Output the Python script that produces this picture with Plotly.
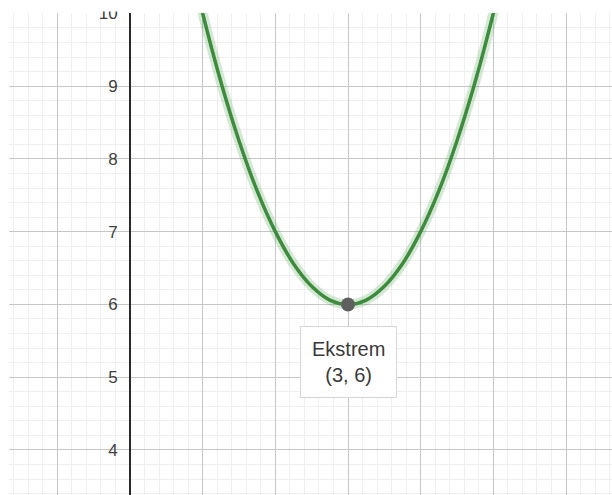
import plotly.graph_objects as go

# Curve samples (parabola with vertex at (3, 6))
curve_x = [0.8, 1.0, 1.25, 1.5, 1.75, 2.0, 2.25, 2.5, 2.75, 3.0, 3.25, 3.5, 3.75, 4.0, 4.25, 4.5, 4.75, 5.0, 5.2]
curve_y = [10.84, 10.0, 9.06, 8.25, 7.56, 7.0, 6.56, 6.25, 6.06, 6.0, 6.06, 6.25, 6.56, 7.0, 7.56, 8.25, 9.06, 10.0, 10.84]

extreme_x = [3]
extreme_y = [6]
extreme_title = "Ekstrem"

y_ticks = [4, 5, 6, 7, 8, 9, 10]
y_ticklabels = ["4", "5", "6", "7", "8", "9", "10"]

x_range = [-1.665, 6.633]
y_range = [3.381, 10.005]

FONT = "Liberation Sans, Arial, sans-serif"

fig = go.Figure()

# soft halo around curve
fig.add_trace(go.Scatter(
    x=curve_x, y=curve_y, mode="lines",
    line=dict(color="rgba(80,160,80,0.24)", width=10, shape="spline"),
    hoverinfo="skip", showlegend=False,
))
# main curve
fig.add_trace(go.Scatter(
    x=curve_x, y=curve_y, mode="lines",
    line=dict(color="#3d8b3d", width=3.5, shape="spline"),
    hoverinfo="skip", showlegend=False,
))
# extreme point
fig.add_trace(go.Scatter(
    x=extreme_x, y=extreme_y, mode="markers",
    marker=dict(color="#606060", size=14, line=dict(width=0)),
    hoverinfo="skip", showlegend=False,
))

fig.add_annotation(
    x=extreme_x[0], y=extreme_y[0],
    text=f"{extreme_title}<br>({extreme_x[0]}, {extreme_y[0]})",
    showarrow=False, xanchor="center", yanchor="top", yshift=-22,
    font=dict(family=FONT, size=20, color="#3a3a3a"),
    bgcolor="white", bordercolor="#d6d6d6", borderwidth=1, borderpad=11,
    align="center",
)

yaxis_pos = (0 - x_range[0]) / (x_range[1] - x_range[0])

fig.update_layout(
    width=612, height=495,
    margin=dict(l=9, r=0, t=13, b=0, pad=0),
    paper_bgcolor="white", plot_bgcolor="white",
    showlegend=False,
    xaxis=dict(
        range=x_range, dtick=1, tick0=0,
        showgrid=True, gridcolor="#c6c6c6", gridwidth=1,
        minor=dict(dtick=0.2, tick0=0, showgrid=True, gridcolor="#efefef", gridwidth=1),
        showticklabels=False, ticks="", zeroline=False, showline=False,
        fixedrange=True,
    ),
    yaxis=dict(
        range=y_range, tickvals=y_ticks, ticktext=y_ticklabels,
        showgrid=True, gridcolor="#c6c6c6", gridwidth=1,
        minor=dict(dtick=0.2, tick0=0, showgrid=True, gridcolor="#efefef", gridwidth=1),
        anchor="free", position=yaxis_pos,
        showline=True, linecolor="#2a2a2a", linewidth=1.6,
        ticks="", ticklabelstandoff=8,
        tickfont=dict(family=FONT, size=17, color="#3f3f3f"),
        zeroline=False, fixedrange=True,
    ),
    shapes=[dict(
        type="rect", xref="paper", yref="paper",
        x0=-0.05, x1=1.05, y0=1.003, y1=1.1,
        fillcolor="white", line=dict(width=0), layer="above",
    )],
)

fig.write_html(
    "out.html",
    config={"displayModeBar": False},
    post_script="document.body.style.margin='0';document.body.style.overflow='hidden';",
)
